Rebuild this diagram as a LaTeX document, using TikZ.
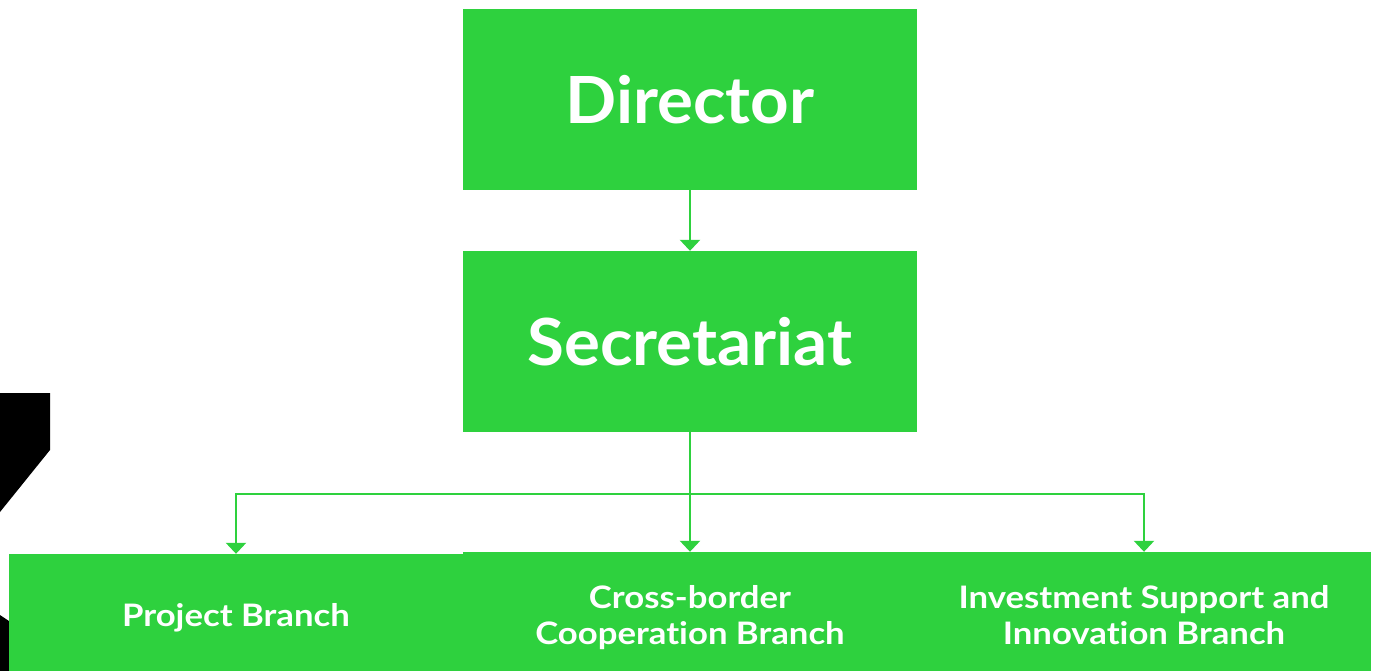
\documentclass[tikz,border=0pt]{standalone}
\usepackage{fontspec}
\setmainfont{Lato}
\newfontfamily\titlefont{Lato}[FakeStretch=1.035]
\newfontfamily\branchfont{Lato}[FakeStretch=1.12, Ligatures={NoCommon}]
\usetikzlibrary{arrows.meta}
\definecolor{boxgreen}{RGB}{46,209,62}
\tikzset{
  box/.style={fill=boxgreen, draw=none, minimum width=454pt, minimum height=181pt, inner sep=0pt, text=white, font=\titlefont\bfseries\fontsize{65}{70}\selectfont},
  branch/.style={fill=boxgreen, draw=none, minimum width=454pt, inner sep=0pt, text=white, align=center, font=\branchfont\bfseries\fontsize{31}{36}\selectfont},
  conn/.style={draw=boxgreen, line width=2.4pt, -{Triangle[width=20pt,length=11pt]}},
  plain/.style={draw=boxgreen, line width=2.4pt}
}
\begin{document}
\begin{tikzpicture}[x=1pt,y=-1pt]
\useasboundingbox (0,0) rectangle (1376,671);
\fill[white] (0,0) rectangle (1376,671);
% black artifacts at left
\fill[black] (0,393) -- (50,393) -- (50,450) -- (0,512) -- cycle;
\fill[black] (0,615) -- (9,621) -- (9,671) -- (0,671) -- cycle;
% boxes
\node[box] (dir) at (690,99.5) {Director};
\node[box] (sec) at (690,341.5) {Secretariat};
\node[branch, minimum height=128pt] (proj) at (236,618) {Project Branch};
\node[branch, minimum height=132pt] (cross) at (690,618) {Cross-border\\Cooperation Branch};
\node[branch, minimum height=126pt] (inv) at (1144,615) {Investment Support and\\Innovation Branch};
% connectors
\draw[conn] (dir.south) -- (sec.north);
\coordinate (j) at (690,494);
\draw[plain] (sec.south) -- (j);
\draw[conn] (j) -- (cross.north);
\draw[conn] (j) -| (proj.north);
\draw[conn] (j) -| (inv.north);
\end{tikzpicture}
\end{document}
